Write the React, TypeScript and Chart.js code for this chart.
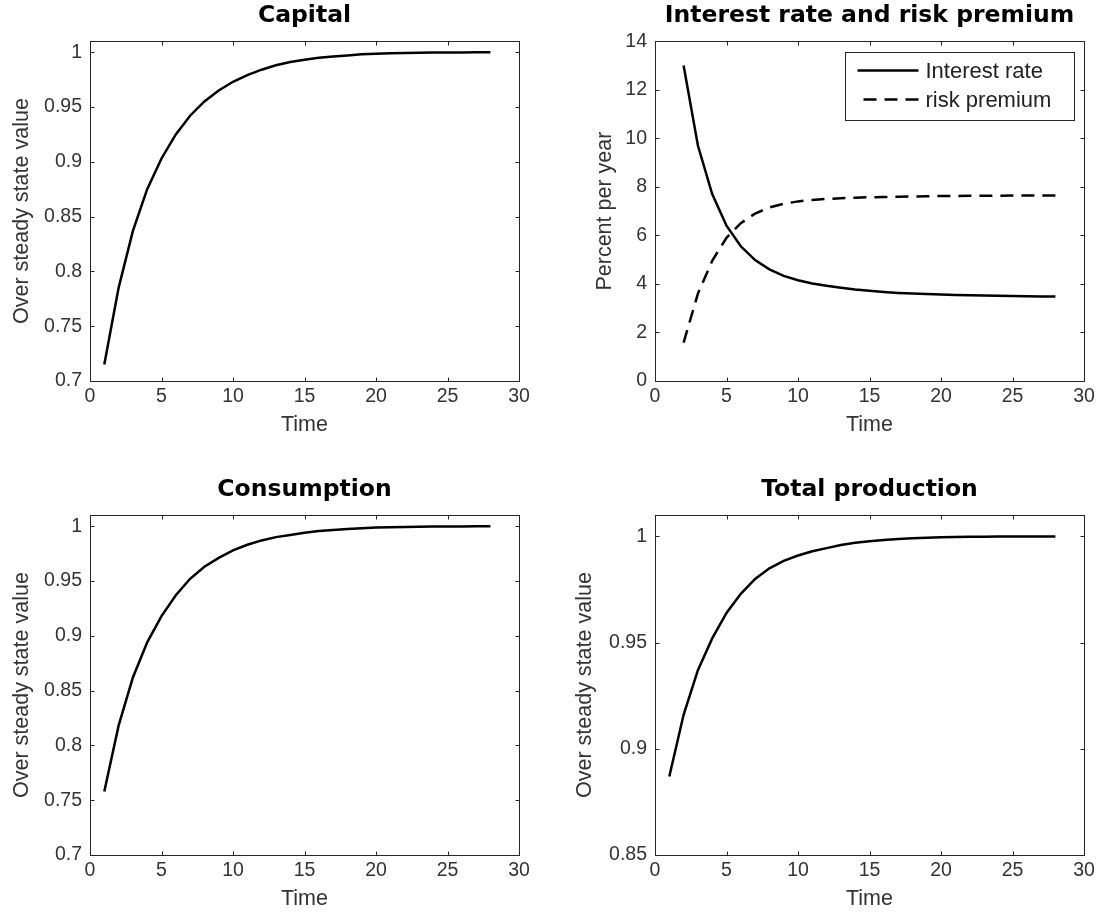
import { useEffect, useRef } from "react";
import { Chart, registerables } from "chart.js";

Chart.register(...registerables);

// time axis (periods)
const timeFull = [1, 2, 3, 4, 5, 6, 7, 8, 9, 10, 11, 12, 13, 14, 15, 16, 17, 18, 19, 20, 21, 22, 23, 24, 25, 26, 27, 28];
const timeRates = [2, 3, 4, 5, 6, 7, 8, 9, 10, 11, 12, 13, 14, 15, 16, 17, 18, 19, 20, 21, 22, 23, 24, 25, 26, 27, 28];

// values
const capital = [
  0.715, 0.785, 0.837, 0.875, 0.903, 0.925, 0.942, 0.955, 0.965, 0.973,
  0.979, 0.984, 0.988, 0.991, 0.993, 0.995, 0.996, 0.997, 0.998, 0.9985,
  0.999, 0.9993, 0.9995, 0.9996, 0.9997, 0.9998, 0.9999, 1.0,
];
const consumption = [
  0.758, 0.818, 0.862, 0.894, 0.918, 0.937, 0.952, 0.963, 0.971, 0.978,
  0.983, 0.987, 0.99, 0.992, 0.994, 0.9955, 0.9966, 0.9975, 0.9982, 0.9987,
  0.999, 0.9993, 0.9995, 0.9996, 0.9997, 0.9998, 0.9999, 1.0,
];
const production = [
  0.887, 0.916, 0.937, 0.952, 0.964, 0.973, 0.98, 0.985, 0.9885, 0.991,
  0.993, 0.9945, 0.996, 0.997, 0.9977, 0.9983, 0.9988, 0.9991, 0.9994, 0.9996,
  0.9997, 0.9998, 0.9999, 1.0, 1.0, 1.0, 1.0, 1.0,
];
const interestRate = [
  13.0, 9.7, 7.7, 6.4, 5.55, 4.98, 4.6, 4.33, 4.15, 4.02,
  3.92, 3.84, 3.77, 3.72, 3.67, 3.63, 3.6, 3.58, 3.56, 3.54,
  3.53, 3.52, 3.51, 3.5, 3.49, 3.48, 3.48,
];
const riskPremium = [
  1.58, 3.6, 4.95, 5.9, 6.5, 6.9, 7.15, 7.3, 7.4, 7.46,
  7.5, 7.53, 7.55, 7.57, 7.58, 7.59, 7.6, 7.61, 7.62, 7.62,
  7.63, 7.63, 7.63, 7.64, 7.64, 7.64, 7.64,
];

const tickFont = { family: "'Liberation Sans', Arial, sans-serif", size: 19.5 };
const labelFont = { family: "'Liberation Sans', Arial, sans-serif", size: 21.5 };
const titleFont = { family: "'DejaVu Sans', sans-serif", size: 23.5, weight: "bold" as const };
const dashPattern = [13, 8];

const toPoints = (xs: number[], ys: number[]) => ys.map((y, i) => ({ x: xs[i], y }));

// box round the axes with inward ticks on all four sides
const framePlugin = {
  id: "matlabFrame",
  afterDatasetsDraw(chart: any) {
    const { ctx, chartArea: a, scales } = chart;
    const len = 4;
    ctx.save();
    ctx.strokeStyle = "#262626";
    ctx.lineWidth = 1;
    const l = Math.round(a.left) + 0.5;
    const t = Math.round(a.top) + 0.5;
    const r = Math.round(a.right) + 0.5;
    const b = Math.round(a.bottom) + 0.5;
    ctx.strokeRect(l, t, r - l, b - t);
    ctx.beginPath();
    scales.x.ticks.forEach((tk: any) => {
      const px = Math.round(scales.x.getPixelForValue(tk.value)) + 0.5;
      ctx.moveTo(px, b);
      ctx.lineTo(px, b - len);
      ctx.moveTo(px, t);
      ctx.lineTo(px, t + len);
    });
    scales.y.ticks.forEach((tk: any) => {
      const py = Math.round(scales.y.getPixelForValue(tk.value)) + 0.5;
      ctx.moveTo(l, py);
      ctx.lineTo(l + len, py);
      ctx.moveTo(r, py);
      ctx.lineTo(r - len, py);
    });
    ctx.stroke();
    ctx.restore();
  },
};

// legend drawn inside the axes, top right, like MATLAB
const insideLegendPlugin = {
  id: "insideLegend",
  afterDraw(chart: any) {
    const { ctx, chartArea: a } = chart;
    const w = 229;
    const h = 68;
    const x0 = Math.round(a.right - 10 - w) + 0.5;
    const y0 = Math.round(a.top + 11) + 0.5;
    ctx.save();
    ctx.fillStyle = "#fff";
    ctx.fillRect(x0, y0, w, h);
    ctx.strokeStyle = "#262626";
    ctx.lineWidth = 1;
    ctx.strokeRect(x0, y0, w, h);
    const rows = [y0 + 18, y0 + 47];
    chart.data.datasets.forEach((ds: any, i: number) => {
      const yy = rows[i];
      ctx.strokeStyle = "#000";
      ctx.lineWidth = 2.5;
      ctx.setLineDash(ds.borderDash || []);
      ctx.beginPath();
      ctx.moveTo(x0 + (ds.borderDash ? 18 : 12), yy);
      ctx.lineTo(x0 + 73, yy);
      ctx.stroke();
      ctx.setLineDash([]);
      ctx.fillStyle = "#222";
      ctx.font = `22px ${labelFont.family}`;
      ctx.textBaseline = "middle";
      ctx.textAlign = "left";
      ctx.fillText(ds.label, x0 + 80, yy + 1);
    });
    ctx.restore();
  },
};

type SubplotProps = {
  left: number;
  top: number;
  yWidth: number;
  yTitlePad: number;
  title: string;
  yTitle: string;
  yMin: number;
  yMax: number;
  yStep: number;
  datasets: any[];
  legend?: boolean;
};

const CANVAS_W = 551;
const CANVAS_H = 456;

function Subplot(props: SubplotProps) {
  const chartRef = useRef<HTMLCanvasElement | null>(null);
  const chartInstanceRef = useRef<Chart | null>(null);

  useEffect(() => {
    const canvas = chartRef.current;
    if (!canvas) return;
    const ctx = canvas.getContext("2d");
    if (!ctx) return;

    if (chartInstanceRef.current) {
      chartInstanceRef.current.destroy();
    }

    const plotRight = props.yWidth + 429;

    chartInstanceRef.current = new Chart(ctx, {
      type: "line",
      data: { datasets: props.datasets },
      options: {
        responsive: false,
        animation: false,
        devicePixelRatio: 1,
        layout: {
          padding: { left: 0, right: CANVAS_W - plotRight, top: 2, bottom: 0 },
        },
        elements: {
          point: { radius: 0, hoverRadius: 0 },
          line: { tension: 0 },
        },
        scales: {
          x: {
            type: "linear",
            min: 0,
            max: 30,
            grid: { display: false, drawTicks: false },
            border: { display: false },
            ticks: {
              stepSize: 5,
              autoSkip: false,
              maxRotation: 0,
              padding: 4,
              color: "#333",
              font: tickFont,
            },
            title: {
              display: true,
              text: "Time",
              color: "#333",
              font: labelFont,
              padding: { top: 0, bottom: 18 },
            },
            afterFit: (s: any) => {
              s.height = CANVAS_H - 381;
            },
          },
          y: {
            type: "linear",
            min: props.yMin,
            max: props.yMax,
            grid: { display: false, drawTicks: false },
            border: { display: false },
            ticks: {
              stepSize: props.yStep,
              includeBounds: false,
              autoSkip: false,
              padding: 8,
              color: "#333",
              font: tickFont,
              callback: (v: any) => String(Number(Number(v).toFixed(2))),
            },
            title: {
              display: true,
              text: props.yTitle,
              color: "#333",
              font: labelFont,
              padding: { top: props.yTitlePad, bottom: 0 },
            },
            afterFit: (s: any) => {
              s.width = props.yWidth;
            },
          },
        },
        plugins: {
          legend: { display: false },
          tooltip: { enabled: false },
          title: {
            display: true,
            text: props.title,
            color: "#000",
            font: titleFont,
            fullSize: false,
            padding: { top: 0, bottom: 11 },
          },
        },
      } as any,
      plugins: props.legend ? [framePlugin, insideLegendPlugin] : [framePlugin],
    });

    return () => {
      if (chartInstanceRef.current) {
        chartInstanceRef.current.destroy();
        chartInstanceRef.current = null;
      }
    };
  }, []);

  return (
    <div style={{ position: "absolute", left: props.left, top: props.top, width: CANVAS_W, height: CANVAS_H }}>
      <canvas ref={chartRef} width={CANVAS_W} height={CANVAS_H} style={{ width: CANVAS_W, height: CANVAS_H }} />
    </div>
  );
}

const solid = (label: string, xs: number[], ys: number[]) => ({
  label,
  data: toPoints(xs, ys),
  borderColor: "#000",
  backgroundColor: "#000",
  borderWidth: 2.5,
  fill: false,
});

export default function App() {
  return (
    <div
      style={{
        position: "absolute",
        left: 0,
        top: 0,
        width: 1102,
        height: 913,
        overflow: "hidden",
        background: "#fff",
      }}
    >
      <Subplot
        left={0}
        top={0}
        yWidth={90}
        yTitlePad={9.4}
        title="Capital"
        yTitle="Over steady state value"
        yMin={0.7}
        yMax={1.01}
        yStep={0.05}
        datasets={[solid("Capital", timeFull, capital)]}
      />
      <Subplot
        left={551}
        top={0}
        yWidth={104}
        yTitlePad={41}
        title="Interest rate and risk premium"
        yTitle="Percent per year"
        yMin={0}
        yMax={14}
        yStep={2}
        legend
        datasets={[
          solid("Interest rate", timeRates, interestRate),
          { ...solid("risk premium", timeRates, riskPremium), borderDash: dashPattern },
        ]}
      />
      <Subplot
        left={0}
        top={474}
        yWidth={90}
        yTitlePad={9.4}
        title="Consumption"
        yTitle="Over steady state value"
        yMin={0.7}
        yMax={1.01}
        yStep={0.05}
        datasets={[solid("Consumption", timeFull, consumption)]}
      />
      <Subplot
        left={551}
        top={474}
        yWidth={104}
        yTitlePad={21}
        title="Total production"
        yTitle="Over steady state value"
        yMin={0.85}
        yMax={1.01}
        yStep={0.05}
        datasets={[solid("Total production", timeFull, production)]}
      />
    </div>
  );
}
